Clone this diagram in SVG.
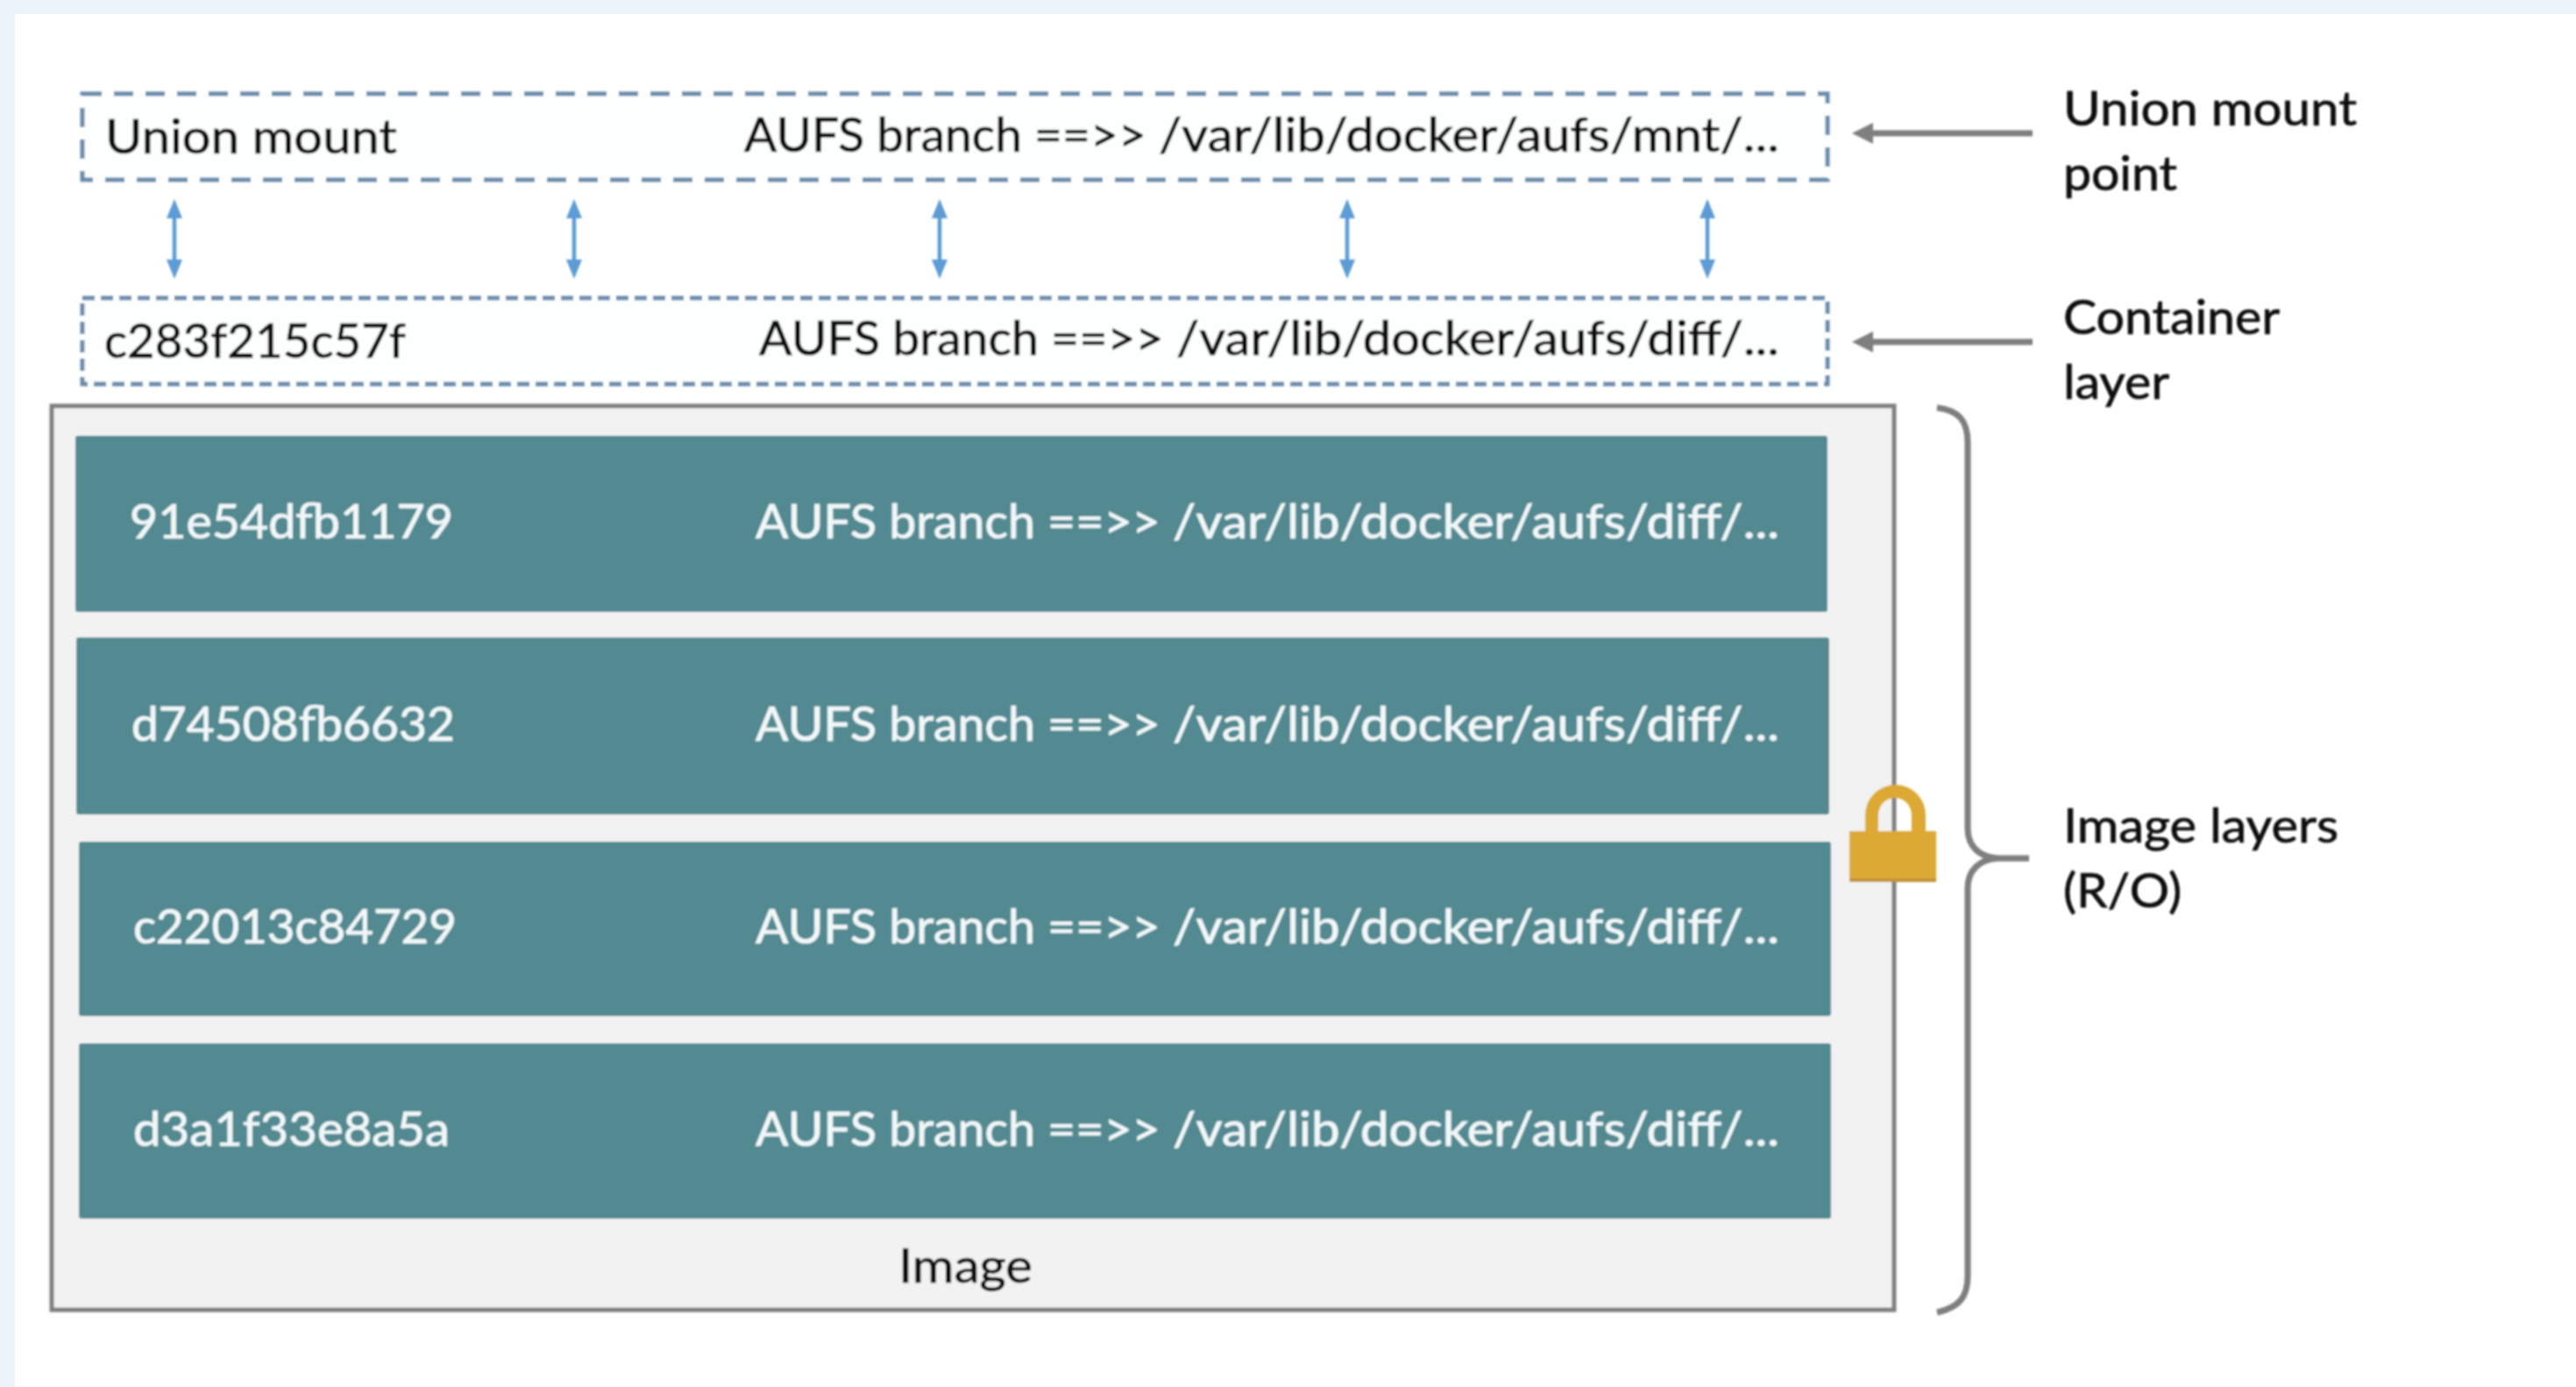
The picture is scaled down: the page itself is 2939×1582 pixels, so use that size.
<svg xmlns="http://www.w3.org/2000/svg" width="2939" height="1582" viewBox="0 0 2939 1582">
<style>
text{font-family:"Lato","Open Sans","Liberation Sans",sans-serif;font-size:54px;fill:#0c0c0c;stroke:#0c0c0c;stroke-width:.7}
text.w{fill:#f2f8f9;stroke:#f2f8f9}
.d{fill:#fdfefe;stroke:#6a8bad;stroke-width:5;stroke-dasharray:22 14}
.d2{fill:#fdfefe;stroke:#6a8bad;stroke-width:5;stroke-dasharray:14 7}
.t{fill:#538991}
.b{stroke:#5b9bd5;stroke-width:4.5;fill:none;marker-start:url(#hb);marker-end:url(#hb)}
.g{stroke:#7f7f7f;stroke-width:7;fill:none}
</style>
<defs>
<filter id="soft" filterUnits="userSpaceOnUse" x="0" y="0" width="2939" height="1582"><feGaussianBlur stdDeviation="1"/></filter>
<marker id="hb" markerUnits="userSpaceOnUse" markerWidth="24" markerHeight="24" refX="0" refY="12" orient="auto-start-reverse" viewBox="0 0 24 24"><path d="M0,3 L22,12 L0,21z" fill="#5b9bd5"/></marker>
<marker id="hg" markerUnits="userSpaceOnUse" markerWidth="26" markerHeight="28" refX="0" refY="14" orient="auto" viewBox="0 0 26 28"><path d="M0,2 L24,14 L0,26z" fill="#7f7f7f"/></marker>
</defs>
<rect width="2939" height="1582" fill="#ebf3fb"/>
<rect x="17" y="16" width="2922" height="1566" fill="#fff"/>
<g filter="url(#soft)">
<g id="union-mount">
<rect class="d" x="94" y="107" width="1991" height="98"/>
<text x="120" y="175" textLength="333" lengthAdjust="spacingAndGlyphs">Union mount</text>
<text y="173"><tspan x="849" textLength="473" lengthAdjust="spacingAndGlyphs">AUFS branch ==&gt;&gt; </tspan><tspan x="1322" textLength="708" lengthAdjust="spacingAndGlyphs">/var/lib/docker/aufs/mnt/...</tspan></text>
</g>
<g id="container-layer">
<rect class="d2" x="94" y="340" width="1991" height="98"/>
<text x="119" y="408" textLength="344" lengthAdjust="spacingAndGlyphs">c283f215c57f</text>
<text y="405"><tspan x="866" textLength="476" lengthAdjust="spacingAndGlyphs">AUFS branch ==&gt;&gt; </tspan><tspan x="1342" textLength="688" lengthAdjust="spacingAndGlyphs">/var/lib/docker/aufs/diff/...</tspan></text>
</g>
<g id="image">
<rect x="59" y="463" width="2102" height="1031" fill="#f2f2f2" stroke="#7f7f7f" stroke-width="5"/>
<text x="1025" y="1463" textLength="153" lengthAdjust="spacingAndGlyphs">Image</text>
</g>
<g id="layer-91e54dfb1179">
<rect class="t" x="86" y="497" width="1999" height="201" rx="3"/>
<text class="w" x="148" y="614" textLength="369" lengthAdjust="spacingAndGlyphs">91e54dfb1179</text>
<text class="w" y="614"><tspan x="862" textLength="476" lengthAdjust="spacingAndGlyphs">AUFS branch ==&gt;&gt; </tspan><tspan x="1338" textLength="692" lengthAdjust="spacingAndGlyphs">/var/lib/docker/aufs/diff/...</tspan></text>
</g>
<g id="layer-d74508fb6632">
<rect class="t" x="87" y="727" width="2000" height="202" rx="3"/>
<text class="w" x="150" y="845" textLength="369" lengthAdjust="spacingAndGlyphs">d74508fb6632</text>
<text class="w" y="845"><tspan x="862" textLength="476" lengthAdjust="spacingAndGlyphs">AUFS branch ==&gt;&gt; </tspan><tspan x="1338" textLength="692" lengthAdjust="spacingAndGlyphs">/var/lib/docker/aufs/diff/...</tspan></text>
</g>
<g id="layer-c22013c84729">
<rect class="t" x="90" y="960" width="1999" height="199" rx="3"/>
<text class="w" x="152" y="1076" textLength="369" lengthAdjust="spacingAndGlyphs">c22013c84729</text>
<text class="w" y="1076"><tspan x="862" textLength="476" lengthAdjust="spacingAndGlyphs">AUFS branch ==&gt;&gt; </tspan><tspan x="1338" textLength="692" lengthAdjust="spacingAndGlyphs">/var/lib/docker/aufs/diff/...</tspan></text>
</g>
<g id="layer-d3a1f33e8a5a">
<rect class="t" x="90" y="1190" width="1999" height="200" rx="3"/>
<text class="w" x="152" y="1307" textLength="361" lengthAdjust="spacingAndGlyphs">d3a1f33e8a5a</text>
<text class="w" y="1307"><tspan x="862" textLength="476" lengthAdjust="spacingAndGlyphs">AUFS branch ==&gt;&gt; </tspan><tspan x="1338" textLength="692" lengthAdjust="spacingAndGlyphs">/var/lib/docker/aufs/diff/...</tspan></text>
</g>
<g id="lock">
<path d="M2128,950 V930 a34.5,35 0 0 1 69,0 V950 H2181 V930 a19,20 0 0 0 -38,0 V950z" fill="#dda934"/>
<rect x="2110" y="948" width="99" height="58" fill="#dda934"/>
<rect x="2110" y="1002" width="99" height="4" fill="#bf9438"/>
</g>
<g id="connectors">
<line class="b" x1="199" y1="249" x2="199" y2="296"/>
<line class="b" x1="655" y1="249" x2="655" y2="296"/>
<line class="b" x1="1072" y1="249" x2="1072" y2="296"/>
<line class="b" x1="1537" y1="249" x2="1537" y2="296"/>
<line class="b" x1="1948" y1="249" x2="1948" y2="296"/>
<line class="g" x1="2319" y1="152" x2="2137" y2="152" marker-end="url(#hg)"/>
<line class="g" x1="2319" y1="390" x2="2137" y2="390" marker-end="url(#hg)"/>
<path class="g" d="M2210,465 C2235,468 2245,480 2245,505 V945 C2245,965 2258,978 2280,979 H2315 M2280,979 C2258,980 2245,993 2245,1013 V1455 C2245,1480 2235,1491 2210,1497"/>
</g>
<g id="labels">
<text x="2354" y="143" textLength="335" lengthAdjust="spacingAndGlyphs">Union mount</text>
<text x="2354" y="217" textLength="130" lengthAdjust="spacingAndGlyphs">point</text>
<text x="2354" y="381" textLength="247" lengthAdjust="spacingAndGlyphs">Container</text>
<text x="2354" y="455" textLength="121" lengthAdjust="spacingAndGlyphs">layer</text>
<text x="2354" y="961" textLength="314" lengthAdjust="spacingAndGlyphs">Image layers</text>
<text x="2354" y="1035" textLength="135" lengthAdjust="spacingAndGlyphs">(R/O)</text>
</g>
</g>
</svg>
